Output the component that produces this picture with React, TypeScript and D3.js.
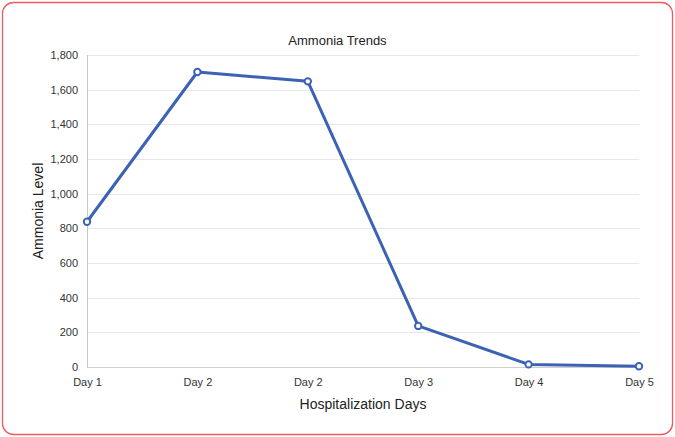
import { useRef, useEffect } from 'react'
import * as d3 from 'd3'

const days = ['Day 1', 'Day 2', 'Day 2', 'Day 3', 'Day 4', 'Day 5']
const ammonia = [838, 1702, 1648, 237, 15, 4]
const yTicks = [0, 200, 400, 600, 800, 1000, 1200, 1400, 1600, 1800]

const W = 675
const H = 437
const margin = { left: 87, right: 36, top: 55, bottom: 70 }
const LINE = '#3c62b5'
const FONT = '"Liberation Sans", Arial, Helvetica, sans-serif'

export default function App() {
  const svgRef = useRef<SVGSVGElement>(null)

  useEffect(() => {
    if (!svgRef.current) return
    const svg = d3.select(svgRef.current)
    svg.selectAll('*').remove()

    const bw = W - margin.left - margin.right
    const bh = H - margin.top - margin.bottom

    // outer frame
    svg
      .append('rect')
      .attr('x', 2.5)
      .attr('y', 2.5)
      .attr('width', W - 5)
      .attr('height', H - 5)
      .attr('rx', 11)
      .attr('fill', '#fff')
      .attr('stroke', '#ef5a5a')
      .attr('stroke-width', 1.3)

    const g = svg.append('g').attr('transform', `translate(${margin.left},${margin.top})`)

    const x = d3
      .scalePoint<number>()
      .domain(days.map((_, i) => i))
      .range([0, bw])

    const y = d3.scaleLinear().domain([0, 1800]).range([bh, 0])

    // grid
    g.append('g')
      .selectAll('line')
      .data(yTicks.filter((t) => t > 0))
      .join('line')
      .attr('x1', 0)
      .attr('x2', bw)
      .attr('y1', (d) => Math.round(y(d)) + 0.5)
      .attr('y2', (d) => Math.round(y(d)) + 0.5)
      .attr('stroke', '#e8e8e8')

    // Y axis
    g.append('g')
      .call(
        d3
          .axisLeft(y)
          .tickValues(yTicks)
          .tickSize(0)
          .tickPadding(9)
          .tickFormat((d) => d3.format(',')(d as number))
      )
      .call((a) => a.select('.domain').remove())
      .selectAll('text')
      .attr('fill', '#333')
      .attr('font-size', 11)
      .attr('font-family', FONT)

    // X axis
    g.append('g')
      .attr('transform', `translate(0,${bh})`)
      .call(
        d3
          .axisBottom(x)
          .tickSize(0)
          .tickPadding(11)
          .tickFormat((i) => days[i as number])
      )
      .call((a) => a.select('.domain').remove())
      .selectAll('text')
      .attr('fill', '#333')
      .attr('font-size', 11)
      .attr('font-family', FONT)

    g.append('line')
      .attr('x1', 0.5)
      .attr('x2', 0.5)
      .attr('y1', 0)
      .attr('y2', bh)
      .attr('stroke', '#c8c8c8')
    g.append('line')
      .attr('x1', 0)
      .attr('x2', bw)
      .attr('y1', bh + 0.5)
      .attr('y2', bh + 0.5)
      .attr('stroke', '#d0d0d0')

    // line
    const line = d3
      .line<number>()
      .x((_, i) => x(i) as number)
      .y((d) => y(d))

    g.append('path')
      .datum(ammonia)
      .attr('d', line)
      .attr('fill', 'none')
      .attr('stroke', LINE)
      .attr('stroke-width', 3)
      .attr('stroke-linejoin', 'round')

    g.selectAll('.pt')
      .data(ammonia)
      .join('circle')
      .attr('class', 'pt')
      .attr('cx', (_, i) => x(i) as number)
      .attr('cy', (d) => y(d))
      .attr('r', 3.2)
      .attr('fill', '#fff')
      .attr('stroke', LINE)
      .attr('stroke-width', 2)

    // titles
    svg
      .append('text')
      .attr('x', W / 2)
      .attr('y', 45)
      .attr('text-anchor', 'middle')
      .attr('font-size', 13)
      .attr('font-family', FONT)
      .attr('fill', '#222')
      .text('Ammonia Trends')

    svg
      .append('text')
      .attr('x', margin.left + bw / 2)
      .attr('y', 409)
      .attr('text-anchor', 'middle')
      .attr('font-size', 14)
      .attr('font-family', FONT)
      .attr('fill', '#222')
      .text('Hospitalization Days')

    svg
      .append('text')
      .attr('transform', `translate(43,${margin.top + bh / 2}) rotate(-90)`)
      .attr('text-anchor', 'middle')
      .attr('font-size', 14)
      .attr('font-family', FONT)
      .attr('fill', '#222')
      .text('Ammonia Level')
  }, [])

  return (
    <div style={{ position: 'absolute', left: 0, top: 0 }}>
      <svg ref={svgRef} width={W} height={H} style={{ display: 'block' }} />
    </div>
  )
}
